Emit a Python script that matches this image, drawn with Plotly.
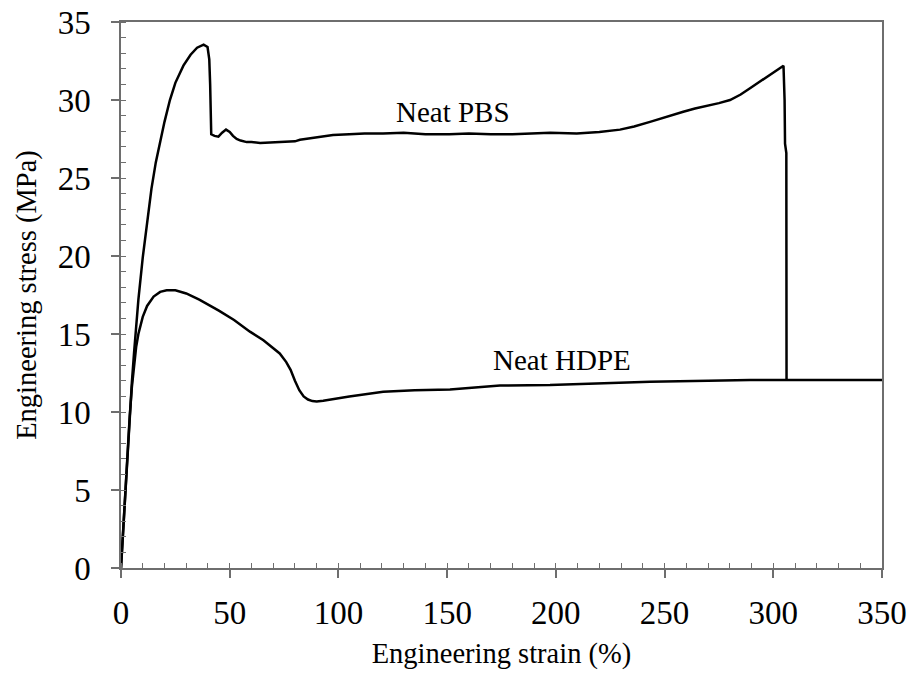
import plotly.graph_objects as go

# Neat PBS: engineering strain (%) vs engineering stress (MPa)
pbs_strain = [0, 1, 2, 3, 4, 5, 6, 7, 8, 10, 12, 14, 16, 18, 20, 22.5, 25, 28.7, 32, 35, 38, 39.8,
              40.6, 41.0, 41.3, 41.5, 43, 44.8, 46.5, 48.3, 50, 51.5, 53.2, 55, 57.8, 60, 64, 70,
              73, 80, 82.3, 90, 97.5, 105, 112, 120.5, 130, 140, 151, 160, 170, 180, 190, 197.4,
              209.6, 220, 229.5, 236, 243.3, 250, 258.6, 264, 269.4, 275, 280.1, 285, 289.3, 293,
              297, 301, 304.7, 305.2, 305.4, 306, 306.1]
pbs_stress = [0, 2.5, 5, 7.5, 9.8, 11.9, 13.8, 15.6, 17.2, 19.9, 22.3, 24.3, 26.0, 27.4, 28.6, 30.0,
              31.1, 32.2, 32.9, 33.35, 33.55, 33.4, 32.6, 31.0, 28.6, 27.8, 27.7, 27.65, 27.9, 28.1,
              27.95, 27.7, 27.5, 27.4, 27.3, 27.3, 27.25, 27.3, 27.3, 27.35, 27.45, 27.6, 27.75,
              27.8, 27.85, 27.86, 27.9, 27.8, 27.8, 27.85, 27.8, 27.8, 27.85, 27.9, 27.86, 27.95,
              28.1, 28.3, 28.6, 28.9, 29.25, 29.45, 29.6, 29.8, 30.0, 30.35, 30.75, 31.1, 31.5,
              31.85, 32.2, 30.0, 27.2, 26.6, 12.05]

# Neat HDPE
hdpe_strain = [0, 1, 2, 3, 4, 5, 6, 7, 8, 10, 12, 15, 18, 21, 25, 30, 36, 45, 52, 59.3, 65.5, 70,
               73, 76, 78, 80, 82, 84, 86, 88, 90, 93, 97, 105, 120.6, 135, 151.3, 174.3,
               197.3, 220, 243.3, 270, 289.3, 310, 330, 350]
hdpe_stress = [0, 2.5, 5, 7.5, 9.7, 11.6, 13.0, 14.2, 15.0, 16.1, 16.8, 17.4, 17.7, 17.8, 17.8,
               17.6, 17.2, 16.5, 15.9, 15.15, 14.6, 14.1, 13.75, 13.2, 12.7, 12.0, 11.4, 11.0,
               10.8, 10.7, 10.68, 10.72, 10.82, 11.0, 11.3, 11.4, 11.45, 11.7, 11.73, 11.85, 11.94,
               12.0, 12.05, 12.05, 12.05, 12.05]

labels = ["Neat PBS", "Neat HDPE"]
label_x = [152.7, 203]
label_y = [29.2, 13.35]

x_ticks = [0, 50, 100, 150, 200, 250, 300, 350]
y_ticks = [0, 5, 10, 15, 20, 25, 30, 35]

FONT = "Liberation Serif, Times New Roman, serif"
AX = "#6e6e6e"

fig = go.Figure()
fig.add_trace(go.Scatter(x=pbs_strain, y=pbs_stress, mode="lines",
                         line=dict(color="black", width=2.5), showlegend=False))
fig.add_trace(go.Scatter(x=hdpe_strain, y=hdpe_stress, mode="lines",
                         line=dict(color="black", width=2.5), showlegend=False))

for t, xv, yv in zip(labels, label_x, label_y):
    fig.add_annotation(x=xv, y=yv, text=t, showarrow=False,
                       font=dict(family=FONT, size=29, color="black"))

fig.update_layout(
    width=912, height=686,
    margin=dict(l=121, r=30, t=22, b=118, autoexpand=False),
    paper_bgcolor="white", plot_bgcolor="white",
    font=dict(family=FONT, color="black"),
)
fig.update_xaxes(
    range=[0, 350], tickmode="array", tickvals=x_ticks, ticktext=[str(v) for v in x_ticks],
    showgrid=False, zeroline=False, showline=True, linecolor=AX, linewidth=1.5, mirror=True,
    ticks="outside", ticklen=8, tickcolor=AX, tickwidth=1.5, automargin=False,
    minor=dict(dtick=10, ticks="inside", ticklen=5, tickcolor=AX, tickwidth=1.2, showgrid=False),
    tickfont=dict(family=FONT, size=33, color="black"), ticklabelstandoff=7,
    title=dict(text="Engineering strain (%)", font=dict(family=FONT, size=28.5, color="black"),
               standoff=13),
)
fig.update_yaxes(
    range=[0, 35], tickmode="array", tickvals=y_ticks, ticktext=[str(v) for v in y_ticks],
    showgrid=False, zeroline=False, showline=True, linecolor=AX, linewidth=1.5, mirror=True,
    ticks="outside", ticklen=8, tickcolor=AX, tickwidth=1.5, automargin=False,
    minor=dict(dtick=1, ticks="inside", ticklen=5, tickcolor=AX, tickwidth=1.2, showgrid=False),
    tickfont=dict(family=FONT, size=33, color="black"), ticklabelstandoff=14,
    title=dict(text="Engineering stress (MPa)", font=dict(family=FONT, size=28.5, color="black"),
               standoff=13),
)

fig.write_html("out.html")
